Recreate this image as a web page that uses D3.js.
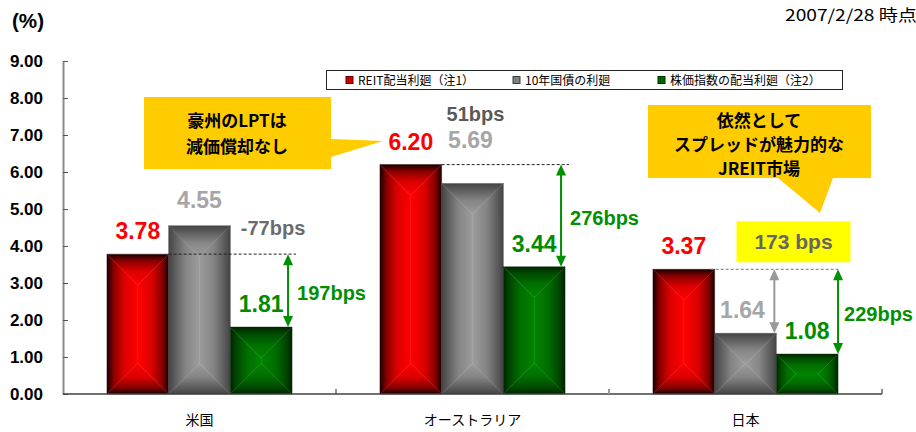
<!DOCTYPE html>
<html>
<head>
<meta charset="utf-8">
<script src="https://cdn.jsdelivr.net/npm/d3@7/dist/d3.min.js"></script>
<style>
  html, body { margin: 0; padding: 0; background: #fff; }
  svg { display: block; }
  text { font-family: "Liberation Sans", Arial, "Noto Sans CJK JP", sans-serif; }
  .jp { font-family: "Noto Sans CJK JP", "Liberation Sans", sans-serif; }
</style>
</head>
<body>
<svg id="chart" width="916" height="432"></svg>
<script>
// Dividend yields by market (%)
const categories = ["米国", "オーストラリア", "日本"];
const seriesNames = ["REIT配当利廻（注1）", "10年国債の利廻", "株価指数の配当利廻（注2）"];
const reitYield  = [3.78, 6.20, 3.37];
const bondYield  = [4.55, 5.69, 1.64];
const stockYield = [1.81, 3.44, 1.08];
const yTicks = [0, 1, 2, 3, 4, 5, 6, 7, 8, 9];

const series = [reitYield, bondYield, stockYield];
const palette = [
  { stops: ["#1a0000", "#8a0000", "#dc0000", "#ff0000"], label: "#ff0000", key: "#cc0000", keyStroke: "#600000" },
  { stops: ["#444444", "#5e5e5e", "#858585", "#9c9c9c"], label: "#a6a6a6", key: "#808080", keyStroke: "#404040" },
  { stops: ["#002400", "#004a00", "#006e00", "#008400"], label: "#008c00", key: "#006600", keyStroke: "#003000" }
];
const stopOffsets = [0, 0.22, 0.55, 1];
const GREEN = "#009000";

const svg = d3.select("#chart");
const defs = svg.append("defs");

const y = d3.scaleLinear().domain([0, 9]).range([394, 61]);
const x0 = d3.scaleBand().domain(categories).range([63, 882]).paddingInner(0.322).paddingOuter(0.161);
const x1 = d3.scaleBand().domain([0, 1, 2]).range([0, x0.bandwidth()]);

// gradients for the four facets of each bar (edge dark -> centre bright)
const dirs = {
  top:    { x1: 0, y1: 0, x2: 0, y2: 1 },
  bottom: { x1: 0, y1: 1, x2: 0, y2: 0 },
  left:   { x1: 0, y1: 0, x2: 1, y2: 0 },
  right:  { x1: 1, y1: 0, x2: 0, y2: 0 }
};
palette.forEach((p, i) => {
  Object.entries(dirs).forEach(([name, d]) => {
    const g = defs.append("linearGradient").attr("id", `g${i}-${name}`)
      .attr("x1", d.x1).attr("y1", d.y1).attr("x2", d.x2).attr("y2", d.y2);
    p.stops.forEach((c, k) => g.append("stop").attr("offset", stopOffsets[k]).attr("stop-color", c));
  });
});

// y axis
const yAxis = d3.axisLeft(y).tickValues(yTicks).tickSize(-5).tickSizeOuter(0)
  .tickPadding(20).tickFormat(d3.format(".2f"));
const ya = svg.append("g").attr("transform", "translate(63,0)").call(yAxis);
ya.select(".domain").attr("stroke", "#8c8c8c").attr("stroke-width", 2);
ya.selectAll(".tick line").attr("stroke", "#555").attr("stroke-width", 1);
ya.selectAll(".tick text").attr("fill", "#000").attr("font-size", 17).attr("font-weight", "bold")
  .style("font-family", "'Liberation Sans', Arial, sans-serif");

svg.append("text").attr("x", 12).attr("y", 28).attr("font-size", 20).attr("font-weight", "bold")
  .attr("textLength", 32).attr("lengthAdjust", "spacingAndGlyphs").text("(%)");

svg.append("text").attr("class", "jp").attr("x", 785).attr("y", 21)
  .attr("font-size", 16).attr("textLength", 132).attr("lengthAdjust", "spacingAndGlyphs")
  .text("2007/2/28 時点");

// bars with rectangular centre-lit shading
const barG = svg.append("g");
categories.forEach((c, ci) => {
  series.forEach((s, si) => {
    const bx0 = x0(c) + x1(si), bx1 = bx0 + x1.bandwidth();
    const by0 = y(s[ci]), by1 = y(0);
    const d = Math.min(bx1 - bx0, by1 - by0) / 2;
    const facets = {
      top:    [[bx0, by0], [bx1, by0], [bx1 - d, by0 + d], [bx0 + d, by0 + d]],
      bottom: [[bx0, by1], [bx1, by1], [bx1 - d, by1 - d], [bx0 + d, by1 - d]],
      left:   [[bx0, by0], [bx0 + d, by0 + d], [bx0 + d, by1 - d], [bx0, by1]],
      right:  [[bx1, by0], [bx1 - d, by0 + d], [bx1 - d, by1 - d], [bx1, by1]]
    };
    Object.entries(facets).forEach(([name, pts]) => {
      barG.append("polygon").attr("points", pts.map(p => p.join(",")).join(" "))
        .attr("fill", `url(#g${si}-${name})`)
        .attr("stroke", `url(#g${si}-${name})`).attr("stroke-width", 0.4);
    });
  });
});

// x axis line with category dividers
svg.append("line").attr("x1", 63).attr("x2", 882).attr("y1", 394).attr("y2", 394)
  .attr("stroke", "#404040").attr("stroke-width", 1.5);
categories.forEach((c, i) => {
  const bx = x0.range()[0] + (i + 1) * x0.step();
  svg.append("line").attr("x1", bx).attr("x2", bx).attr("y1", 394).attr("y2", 389)
    .attr("stroke", i === 1 ? "#999" : "#404040").attr("stroke-width", i === 1 ? 2 : 1.2);
  svg.append("text").attr("class", "jp").attr("x", x0(c) + x0.bandwidth() / 2).attr("y", 425)
    .attr("text-anchor", "middle").attr("font-size", 14).text(c);
});

// legend
svg.append("rect").attr("x", 326.5).attr("y", 70.5).attr("width", 516).attr("height", 19)
  .attr("fill", "#fff").attr("stroke", "#222").attr("stroke-width", 1);
const legendX = [346, 513, 658];
seriesNames.forEach((n, i) => {
  svg.append("rect").attr("x", legendX[i]).attr("y", 76.5).attr("width", 7).attr("height", 7)
    .attr("fill", palette[i].key).attr("stroke", palette[i].keyStroke).attr("stroke-width", 1);
  svg.append("text").attr("class", "jp").attr("x", legendX[i] + 12).attr("y", 85)
    .attr("font-size", 12).text(n);
});

// value labels
const labelNudge = [
  [[0, 0], [0, -3], [0, 0]],
  [[0, 0], [-2, 0], [0, 0]],
  [[0, 0], [-3, 0], [0, 0]]
];
categories.forEach((c, ci) => {
  series.forEach((s, si) => {
    const cx = x0(c) + x1(si) + x1.bandwidth() / 2;
    // the Australian bond label sits level with the REIT label
    const ly = (ci === 1 && si === 1) ? y(reitYield[ci]) - 17 : y(s[ci]) - 15 + labelNudge[ci][si][1];
    svg.append("text").attr("x", cx + labelNudge[ci][si][0]).attr("y", ly)
      .attr("text-anchor", "middle").attr("font-size", 23).attr("font-weight", "bold")
      .attr("fill", palette[si].label).text(s[ci].toFixed(2));
  });
});

// spreads (bps) between REIT yield and the other yields
const bps = (a, b) => Math.round((a - b) * 100);

function arrow(x, yTop, yBot, color) {
  const h = 11, w = 5;
  svg.append("line").attr("x1", x).attr("x2", x).attr("y1", yTop + h - 1).attr("y2", yBot - h + 1)
    .attr("stroke", color).attr("stroke-width", 2);
  svg.append("polygon").attr("points", `${x},${yTop} ${x - w},${yTop + h} ${x + w},${yTop + h}`).attr("fill", color);
  svg.append("polygon").attr("points", `${x},${yBot} ${x - w},${yBot - h} ${x + w},${yBot - h}`).attr("fill", color);
}
function dashed(xa, xb, yy, color) {
  svg.append("line").attr("x1", xa).attr("x2", xb).attr("y1", yy).attr("y2", yy)
    .attr("stroke", color).attr("stroke-width", 1).attr("stroke-dasharray", "3,2");
}
function barRight(ci, si) { return x0(categories[ci]) + x1(si) + x1.bandwidth(); }

// 米国 and オーストラリア: REIT vs stock arrow, bond spread as text
[0, 1].forEach(ci => {
  const ax = barRight(ci, 2) - 4;
  const yr = y(reitYield[ci]), ys = y(stockYield[ci]);
  dashed(barRight(ci, 0), ax + 8, yr, "#222");
  arrow(ax, yr, ys, GREEN);
  svg.append("text").attr("x", ax + 9).attr("y", (yr + ys) / 2 + 9)
    .attr("font-size", 20).attr("font-weight", "bold").attr("fill", GREEN)
    .text(bps(reitYield[ci], stockYield[ci]) + "bps");
});
svg.append("text").attr("x", barRight(0, 2) - 19).attr("y", y(reitYield[0]) - 19)
  .attr("text-anchor", "middle").attr("font-size", 20).attr("font-weight", "bold").attr("fill", "#6b6b6b")
  .text(bps(reitYield[0], bondYield[0]) + "bps");
svg.append("text").attr("x", x0(categories[1]) + x1(1) + x1.bandwidth() / 2 + 3).attr("y", y(reitYield[1]) - 44)
  .attr("text-anchor", "middle").attr("font-size", 20).attr("font-weight", "bold").attr("fill", "#595959")
  .text(bps(reitYield[1], bondYield[1]) + "bps");

// 日本: both spreads as arrows
{
  const ci = 2;
  const yr = y(reitYield[ci]);
  const gx = barRight(ci, 1) - 2, sx = barRight(ci, 2);
  dashed(barRight(ci, 0) - 4, sx, yr, "#777");
  arrow(gx, yr, y(bondYield[ci]), "#999");
  arrow(sx, yr, y(stockYield[ci]), GREEN);
  svg.append("text").attr("x", sx + 6).attr("y", (yr + y(stockYield[ci])) / 2 + 9)
    .attr("font-size", 20).attr("font-weight", "bold").attr("fill", GREEN)
    .text(bps(reitYield[ci], stockYield[ci]) + "bps");
  const bxc = x0(categories[ci]) + x0.bandwidth() / 2 + 48;
  svg.append("rect").attr("x", bxc - 57).attr("y", yr - 48).attr("width", 114).attr("height", 41)
    .attr("fill", "#ffff00");
  svg.append("text").attr("x", bxc).attr("y", yr - 20).attr("text-anchor", "middle")
    .attr("font-size", 21).attr("font-weight", "bold").attr("fill", "#666")
    .text(bps(reitYield[ci], bondYield[ci]) + " bps");
}

// callouts
svg.append("path").attr("d", "M144,97 H331 V139 L383,141 L331,157 V169 H144 Z").attr("fill", "#ffcc00");
[["豪州のLPTは", 127], ["減価償却なし", 153]].forEach(([t, yy]) => {
  svg.append("text").attr("class", "jp").attr("x", 237).attr("y", yy).attr("text-anchor", "middle")
    .attr("font-size", 17).attr("font-weight", "bold").attr("fill", "#000").text(t);
});
svg.append("path").attr("d", "M648,105 H871 V178 H833 L820,213 L778,178 H648 Z").attr("fill", "#ffcc00");
[["依然として", 127], ["スプレッドが魅力的な", 151], ["JREIT市場", 175]].forEach(([t, yy]) => {
  svg.append("text").attr("class", "jp").attr("x", 759).attr("y", yy).attr("text-anchor", "middle")
    .attr("font-size", 17).attr("font-weight", "bold").attr("fill", "#000").text(t);
});
</script>
</body>
</html>
